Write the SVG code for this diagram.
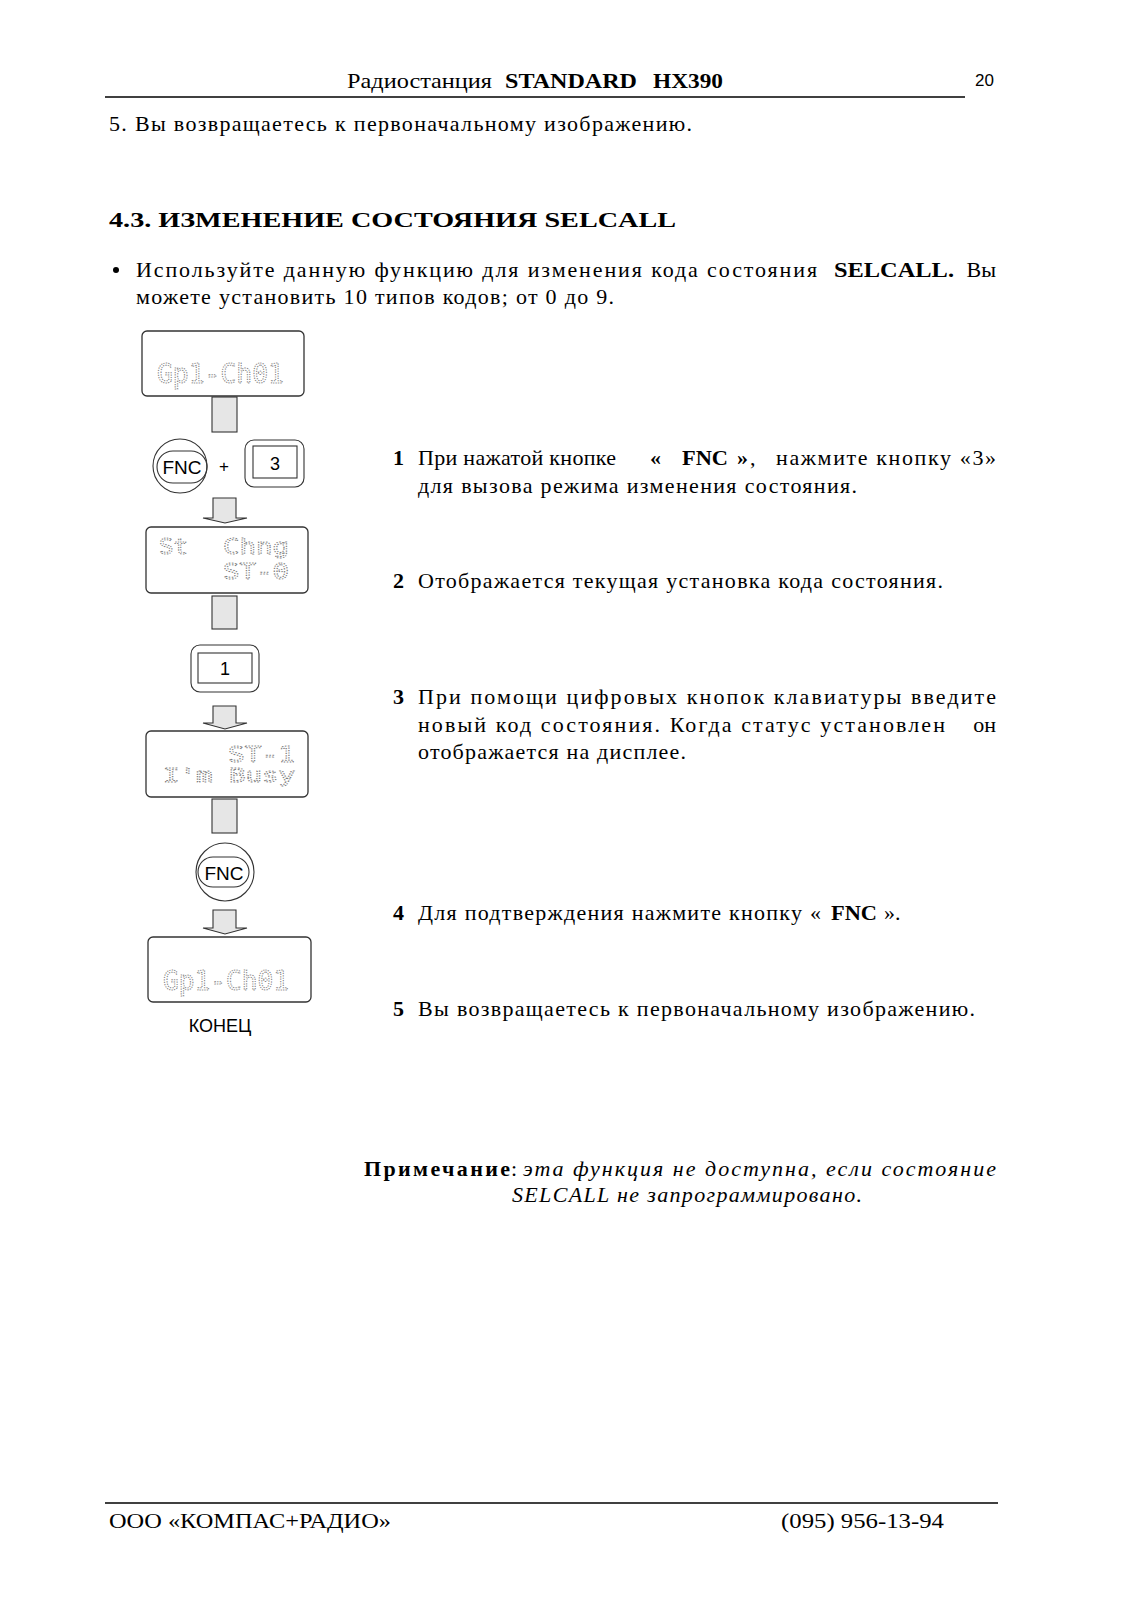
<svg xmlns="http://www.w3.org/2000/svg" width="1131" height="1600" viewBox="0 0 1131 1600">
<style>
.t{font-family:"Liberation Serif","Times New Roman",serif;font-size:22px;fill:#000}
.b{font-weight:bold}
.i{font-style:italic}
.s{font-family:"Liberation Sans",Arial,sans-serif;fill:#000}
.lcd{font-family:"DejaVu Sans Mono","Liberation Mono",monospace;fill:none;stroke:#808080;stroke-width:1;stroke-dasharray:1.2 1.2}
.box{fill:#fff;stroke:#333;stroke-width:1.3}
.ln{fill:none;stroke:#333;stroke-width:1.1}
.con{fill:#e6e6e6;stroke:#333;stroke-width:1.1}
</style>
<rect width="1131" height="1600" fill="#fff"/>

<g id="header">
<text class="t" x="347" y="88" textLength="145" lengthAdjust="spacingAndGlyphs">Радиостанция</text>
<text class="t b" x="505" y="88" textLength="132" lengthAdjust="spacingAndGlyphs">STANDARD</text>
<text class="t b" x="653" y="88" textLength="70" lengthAdjust="spacingAndGlyphs">HX390</text>
<text class="s" x="975" y="86" font-size="17">20</text>
<line x1="105" y1="97" x2="965" y2="97" stroke="#000" stroke-width="1.5"/>
<text class="t" x="109" y="131" textLength="583">5. Вы возвращаетесь к первоначальному изображению.</text>
</g>

<g id="heading">
<text class="t b" x="109" y="227" font-size="29" textLength="567" lengthAdjust="spacingAndGlyphs">4.3. ИЗМЕНЕНИЕ СОСТОЯНИЯ SELCALL</text>
<circle cx="116" cy="270" r="3" fill="#000"/>
<text class="t" x="136" y="277" textLength="681">Используйте данную функцию для изменения кода состояния</text>
<text class="t b" x="834" y="277" textLength="120" lengthAdjust="spacingAndGlyphs">SELCALL.</text>
<text class="t" x="996" y="277" text-anchor="end">Вы</text>
<text class="t" x="136" y="304" textLength="478">можете установить 10 типов кодов; от 0 до 9.</text>
</g>

<g id="connectors">
<rect class="con" x="212" y="397" width="25" height="35"/>
<polygon class="con" points="213,498 236,498 236,518 247,518 225,523 203,518 213,518"/>
<rect class="con" x="212" y="596" width="25" height="33"/>
<polygon class="con" points="213,706 236,706 236,723 247,723 225,729 203,723 213,723"/>
<rect class="con" x="212" y="799" width="25" height="34"/>
<polygon class="con" points="213,910 236,910 236,928 247,928 225,934 203,928 213,928"/>
</g>

<g id="lcd1">
<rect class="box" x="142" y="331" width="162" height="65" rx="5"/>
<text class="lcd" x="157" y="383" font-size="26" textLength="127" lengthAdjust="spacingAndGlyphs">Gp1-Ch01</text>
</g>

<g id="btn-fnc1">
<circle class="ln" cx="180" cy="466" r="27"/>
<rect class="ln" x="157" y="451" width="50" height="32" rx="16"/>
<text class="s" x="182" y="474" font-size="19" text-anchor="middle">FNC</text>
</g>
<text class="s" x="224" y="472" font-size="17" text-anchor="middle">+</text>
<g id="btn-3">
<rect class="ln" x="245" y="440" width="59" height="47" rx="9"/>
<rect class="ln" x="253" y="446" width="44" height="32"/>
<text class="s" x="275" y="470" font-size="18" text-anchor="middle">3</text>
</g>

<g id="lcd2">
<rect class="box" x="146" y="527" width="162" height="66" rx="5"/>
<text class="lcd" x="159" y="554" font-size="22" textLength="29" lengthAdjust="spacingAndGlyphs">St</text>
<text class="lcd" x="223" y="554" font-size="22" textLength="66" lengthAdjust="spacingAndGlyphs">Chng</text>
<text class="lcd" x="223" y="579" font-size="22" textLength="66" lengthAdjust="spacingAndGlyphs">ST-0</text>
</g>

<g id="btn-1">
<rect class="ln" x="191" y="645" width="68" height="47" rx="9"/>
<rect class="ln" x="198" y="653" width="54" height="30"/>
<text class="s" x="225" y="675" font-size="18" text-anchor="middle">1</text>
</g>

<g id="lcd3">
<rect class="box" x="146" y="731" width="162" height="66" rx="5"/>
<text class="lcd" x="228" y="762" font-size="22" textLength="67" lengthAdjust="spacingAndGlyphs">ST-1</text>
<text class="lcd" x="163" y="782" font-size="20" textLength="132" lengthAdjust="spacingAndGlyphs">I'm Busy</text>
</g>

<g id="btn-fnc2">
<circle class="ln" cx="225" cy="872" r="29"/>
<rect class="ln" x="198" y="857" width="51" height="30" rx="15"/>
<text class="s" x="224" y="880" font-size="19" text-anchor="middle">FNC</text>
</g>

<g id="lcd4">
<rect class="box" x="148" y="937" width="163" height="65" rx="5"/>
<text class="lcd" x="163" y="990" font-size="26" textLength="126" lengthAdjust="spacingAndGlyphs">Gp1-Ch01</text>
<text class="s" x="220" y="1032" font-size="18" text-anchor="middle">КОНЕЦ</text>
</g>

<g id="steps">
<text class="t b" x="393" y="465">1</text>
<text class="t" x="418" y="465" textLength="198">При нажатой кнопке</text>
<text class="t b" x="650" y="465">«</text>
<text class="t b" x="682" y="465" textLength="46" lengthAdjust="spacingAndGlyphs">FNC</text>
<text class="t b" x="737" y="465">»</text>
<text class="t" x="750" y="465">,</text>
<text class="t" x="776" y="465" textLength="220">нажмите кнопку «3»</text>
<text class="t" x="418" y="493" textLength="439">для вызова режима изменения состояния.</text>

<text class="t b" x="393" y="588">2</text>
<text class="t" x="418" y="588" textLength="525">Отображается текущая установка кода состояния.</text>

<text class="t b" x="393" y="704">3</text>
<text class="t" x="418" y="704" textLength="578">При помощи цифровых кнопок клавиатуры введите</text>
<text class="t" x="418" y="732" textLength="527">новый код состояния. Когда статус установлен</text>
<text class="t" x="996" y="732" text-anchor="end">он</text>
<text class="t" x="418" y="759" textLength="268">отображается на дисплее.</text>

<text class="t b" x="393" y="920">4</text>
<text class="t" x="418" y="920" textLength="403">Для подтверждения нажмите кнопку «</text>
<text class="t b" x="831" y="920" textLength="46" lengthAdjust="spacingAndGlyphs">FNC</text>
<text class="t" x="884" y="920">».</text>

<text class="t b" x="393" y="1016">5</text>
<text class="t" x="418" y="1016" textLength="557">Вы возвращаетесь к первоначальному изображению.</text>
</g>

<g id="note">
<text class="t b" x="364" y="1176" textLength="146">Примечание</text>
<text class="t" x="511" y="1176">:</text>
<text class="t i" x="523" y="1176" textLength="473">эта функция не доступна, если состояние</text>
<text class="t i" x="512" y="1202" textLength="350">SELCALL не запрограммировано.</text>
</g>

<g id="footer">
<line x1="105" y1="1503" x2="998" y2="1503" stroke="#000" stroke-width="1.5"/>
<text class="t" x="109" y="1528" textLength="282" lengthAdjust="spacingAndGlyphs">ООО «КОМПАС+РАДИО»</text>
<text class="t" x="781" y="1528" textLength="163" lengthAdjust="spacingAndGlyphs">(095) 956-13-94</text>
</g>
</svg>
